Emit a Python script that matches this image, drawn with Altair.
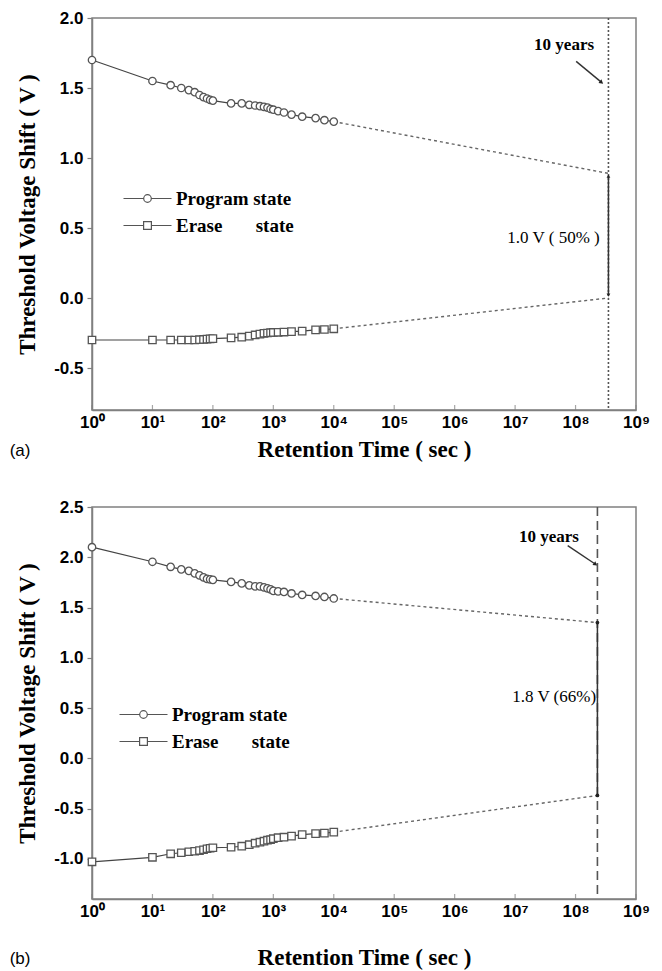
import altair as alt
import pandas as pd

# ---------------- data ----------------
times = [1, 10, 20, 30, 40, 50, 60, 70, 80, 90, 100, 200, 300, 400, 500, 600,
         700, 800, 900, 1000, 1200, 1500, 2000, 3000, 5000, 7000, 10000]

a_program = [1.70, 1.55, 1.52, 1.50, 1.485, 1.47, 1.45, 1.435, 1.425, 1.415,
             1.41, 1.39, 1.39, 1.38, 1.375, 1.37, 1.365, 1.36, 1.35, 1.345,
             1.335, 1.325, 1.31, 1.295, 1.285, 1.27, 1.26]
a_erase = [-0.30, -0.30, -0.30, -0.30, -0.30, -0.30, -0.298, -0.296, -0.294, -0.292,
           -0.29, -0.285, -0.28, -0.272, -0.264, -0.258, -0.252, -0.25, -0.248, -0.246,
           -0.245, -0.243, -0.24, -0.237, -0.228, -0.225, -0.22]
b_program = [2.10, 1.955, 1.905, 1.88, 1.865, 1.84, 1.82, 1.80, 1.785, 1.78,
             1.775, 1.755, 1.74, 1.72, 1.71, 1.71, 1.70, 1.69, 1.68, 1.665,
             1.66, 1.655, 1.64, 1.625, 1.615, 1.605, 1.59]
b_erase = [-1.03, -0.985, -0.95, -0.94, -0.93, -0.925, -0.918, -0.91, -0.90, -0.895,
           -0.89, -0.885, -0.875, -0.86, -0.845, -0.835, -0.825, -0.815, -0.81, -0.80,
           -0.79, -0.785, -0.775, -0.76, -0.75, -0.745, -0.735]

series_names = ["Program state", "Erase" + "\u00a0" * 7 + "state"]

# 10-year marks and extrapolated values
a_ten_years = 3.5e8
b_ten_years = 2.3e8
a_extrap = [0.89, 0.0]      # program, erase at 10 years
b_extrap = [1.35, -0.37]
a_window = [0.87, 0.02]
b_window = [1.35, -0.37]
a_window_label = "1.0 V ( 50% )"
b_window_label = "1.8 V (66%)"

# annotation anchors (data units)
a_years_text = [10 ** 7.81, 1.81]
b_years_text = [10 ** 7.56, 2.20]
a_years_arrow = [10 ** 8.01, 1.69, 10 ** 8.43, 1.54]
b_years_arrow = [10 ** 7.87, 2.115, 10 ** 8.33, 1.93]
a_window_text = [10 ** 8.40, 0.43]
b_window_text = [10 ** 8.34, 0.606]

x_ticks = [10 ** k for k in range(10)]
a_y_ticks = [-0.5, 0.0, 0.5, 1.0, 1.5, 2.0]
b_y_ticks = [-1.0, -0.5, 0.0, 0.5, 1.0, 1.5, 2.0, 2.5]
a_y_domain = [-0.8, 2.0]
b_y_domain = [-1.4, 2.5]

# ---------------- styling ----------------
W, H = 544, 392
LINE = "#444444"
MARK = "#555555"
FRAME = "#808080"
SERIF = "Liberation Serif"
SANS = "Liberation Sans"

sup = "\u2070\u00b9\u00b2\u00b3\u2074\u2075\u2076\u2077\u2078\u2079"
x_label_expr = "'10' + ['" + "','".join(sup) + "'][round(log(datum.value)/LN10)]"

circle_path = ("M-4.8,0L-0.76,0M0.76,0L4.8,0"
               "M0.76,0A0.76,0.76,0,1,1,-0.76,0A0.76,0.76,0,1,1,0.76,0Z")
square_path = ("M-4.8,0L-0.78,0M0.78,0L4.8,0"
               "M-0.78,-0.78L0.78,-0.78L0.78,0.78L-0.78,0.78Z")


def panel(prog, erase, ten, extrap, window, ydom, yticks, years_text, years_arrow,
          win_text, win_label, rule_dash, cap_shapes, tag, legend_xy, xtitle_pad):
    xscale = alt.Scale(type="log", domain=[1, 1e9], nice=False)
    yscale = alt.Scale(domain=ydom, nice=False, zero=False)
    yaxis = alt.Axis(values=yticks, title="Threshold Voltage Shift ( V )",
                     labelExpr="replace(format(datum.value, '.1f'), '\u2212', '-')",
                     labelFontSize=17, labelPadding=4, tickSize=5, titlePadding=14)
    xaxis = alt.Axis(values=x_ticks, labelExpr=x_label_expr, title="Retention Time ( sec )",
                     labelFontSize=17, labelPadding=4, ticks=False, labelFlush=False,
                     titlePadding=xtitle_pad)

    def x(field="t"):
        return alt.X(field + ":Q", scale=xscale, axis=xaxis)

    def y(field="v"):
        return alt.Y(field + ":Q", scale=yscale, axis=yaxis)

    df = pd.DataFrame({
        "t": times * 2,
        "v": prog + erase,
        "series": [series_names[0]] * len(times) + [series_names[1]] * len(times),
    })
    ext = pd.DataFrame({
        "t": [times[-1], ten, times[-1], ten],
        "v": [prog[-1], extrap[0], erase[-1], extrap[1]],
        "series": [series_names[0]] * 2 + [series_names[1]] * 2,
    })

    # inward ticks on the time axis, sitting on the bottom of the value range
    tick_df = pd.DataFrame({"t": x_ticks, "v": [ydom[0]] * len(x_ticks)})
    in_ticks = alt.Chart(tick_df).mark_tick(
        orient="vertical", size=5, yOffset=-2.5, color=FRAME, thickness=1.2).encode(
        x=x(), y=y())

    ten_rule = alt.Chart(pd.DataFrame({"t": [ten]})).mark_rule(
        color="#555555", strokeDash=rule_dash, strokeWidth=1.6).encode(x=x())

    ext_line = alt.Chart(ext).mark_line(color="#666666", strokeDash=[3, 3], strokeWidth=1.4).encode(
        x=x(), y=y(), detail="series:N")

    lines = alt.Chart(df).mark_line(color=LINE, strokeWidth=1.2).encode(
        x=x(), y=y(), detail="series:N")

    circles = alt.Chart(df).transform_filter(
        alt.datum.series == series_names[0]).mark_point(
        shape="circle", filled=True, fill="white", stroke=MARK, strokeWidth=1.3, size=55,
        opacity=1).encode(x=x(), y=y())
    squares = alt.Chart(df).transform_filter(
        alt.datum.series == series_names[1]).mark_point(
        shape="square", filled=True, fill="white", stroke=MARK, strokeWidth=1.3, size=55,
        opacity=1).encode(x=x(), y=y())

    legend_layer = alt.Chart(df).mark_point(opacity=0, color=LINE).encode(
        x=x(), y=y(),
        shape=alt.Shape("series:N",
                        scale=alt.Scale(domain=series_names, range=[circle_path, square_path]),
                        legend=alt.Legend(title=None, orient="none",
                                          legendX=legend_xy[0], legendY=legend_xy[1],
                                          symbolSize=100, symbolOpacity=1,
                                          symbolStrokeColor=MARK, symbolFillColor="white",
                                          symbolStrokeWidth=1.2, labelOffset=19,
                                          labelFont=SERIF, labelFontWeight="bold",
                                          labelFontSize=19, labelColor="black",
                                          rowPadding=7, padding=0)))

    win = pd.DataFrame({"t": [ten], "v": [window[0]], "v2": [window[1]]})
    win_rule = alt.Chart(win).mark_rule(color="#333333", strokeWidth=1.5).encode(
        x=x(), y=y(), y2="v2:Q")
    cap_top = alt.Chart(win).mark_point(shape=cap_shapes[0], filled=True, color="#222222",
                                        size=14, opacity=1).encode(x=x(), y=y())
    cap_bot = alt.Chart(win).mark_point(shape=cap_shapes[1], filled=True, color="#222222",
                                        size=14, opacity=1).encode(x=x(), y=y("v2"))

    arr = pd.DataFrame({"t": [years_arrow[0]], "v": [years_arrow[1]],
                        "t2": [years_arrow[2]], "v2": [years_arrow[3]]})
    arrow_line = alt.Chart(arr).mark_rule(color="#333333", strokeWidth=1.4).encode(
        x=x(), y=y(), x2="t2:Q", y2="v2:Q")
    arrow_head = alt.Chart(arr).mark_point(shape="triangle-right", angle=38, filled=True,
                                           color="#222222", size=22, opacity=1).encode(
        x=x("t2"), y=y("v2"))

    txt = pd.DataFrame({"t": [years_text[0], win_text[0]], "v": [years_text[1], win_text[1]],
                        "label": ["10 years", win_label]})
    years_lbl = alt.Chart(txt.iloc[[0]]).mark_text(
        font=SERIF, fontWeight="bold", fontSize=17, color="black", align="center",
        baseline="middle").encode(x=x(), y=y(), text="label:N")
    win_lbl = alt.Chart(txt.iloc[[1]]).mark_text(
        font=SERIF, fontWeight="normal", fontSize=17, color="black", align="right",
        baseline="middle").encode(x=x(), y=y(), text="label:N")

    return alt.layer(
        lines, in_ticks, ten_rule, ext_line, circles, squares, legend_layer,
        win_rule, cap_top, cap_bot, arrow_line, arrow_head, years_lbl, win_lbl
    ).properties(
        width=W, height=H,
        title=alt.TitleParams(tag, orient="bottom", anchor="start", frame="bounds",
                              font=SANS, fontSize=17, fontWeight="normal", color="black",
                              dx=-7, offset=-18))


top = panel(a_program, a_erase, a_ten_years, a_extrap, a_window, a_y_domain, a_y_ticks,
            a_years_text, a_years_arrow, a_window_text, a_window_label, [2, 2],
            ["triangle-up", "triangle-down"], "(a)", [46, 171], 8)
bottom = panel(b_program, b_erase, b_ten_years, b_extrap, b_window, b_y_domain,
               b_y_ticks, b_years_text, b_years_arrow, b_window_text, b_window_label,
               [9, 5], ["circle", "circle"], "(b)", [42, 198], 27)

chart = alt.vconcat(top, bottom, spacing=35).resolve_scale(
    shape="independent").resolve_legend(shape="independent").properties(
    padding={"left": 0, "top": 0, "right": 0, "bottom": 0}
).configure_view(stroke=FRAME, strokeWidth=1.5).configure_axis(
    domainColor=FRAME, domainWidth=1.5, tickColor=FRAME, tickWidth=1.2, grid=False,
    labelFont=SANS, labelFontWeight="bold", labelColor="black",
    titleFont=SERIF, titleFontWeight="bold", titleFontSize=23, titleColor="black"
)

chart.save("out.html", embed_options={"renderer": "svg", "actions": False})
